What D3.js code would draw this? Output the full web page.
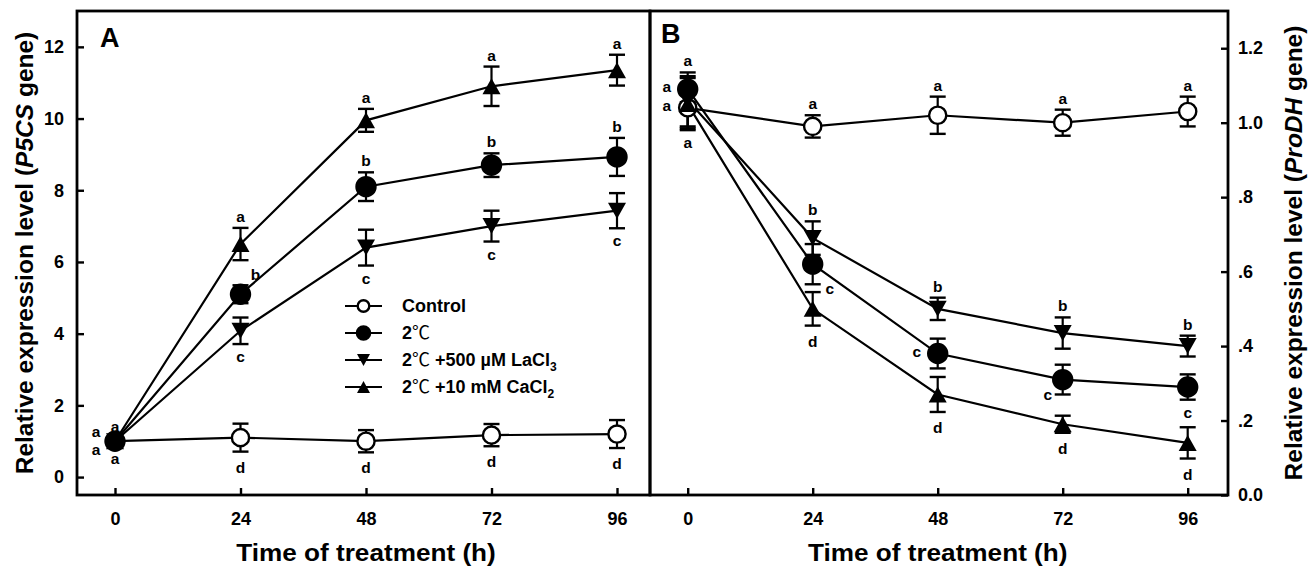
<!DOCTYPE html>
<html>
<head>
<meta charset="utf-8">
<script src="https://cdn.jsdelivr.net/npm/d3@7"></script>
<style>
body{margin:0;background:#fff;}
svg{display:block;font-family:'Liberation Sans',Arial,sans-serif;font-weight:bold;}
</style>
</head>
<body>
<div class="chart-container"></div>
<script>
//Data
const hours = [0, 24, 48, 72, 96];
const seriesNames = ['Control', '2℃', '2℃ +500 µM LaCl3', '2℃ +10 mM CaCl2'];
const markerTypes = ['openCircle', 'circle', 'triangleDown', 'triangleUp'];

// panel A - P5CS
const p5csControl = [1.0, 1.1, 1.0, 1.17, 1.2];
const p5csControlErr = [0.12, 0.39, 0.31, 0.31, 0.39];
const p5csCold = [1.0, 5.1, 8.1, 8.7, 8.93];
const p5csColdErr = [0.1, 0.25, 0.4, 0.33, 0.53];
const p5csLa = [1.0, 4.08, 6.4, 7.0, 7.43];
const p5csLaErr = [0.1, 0.37, 0.5, 0.43, 0.49];
const p5csCa = [1.0, 6.5, 9.95, 10.9, 11.35];
const p5csCaErr = [0.1, 0.45, 0.32, 0.55, 0.43];
const p5csLetters = [
    ['a', 'd', 'd', 'd', 'd'],
    ['a', 'b', 'b', 'b', 'b'],
    ['a', 'c', 'c', 'c', 'c'],
    ['a', 'a', 'a', 'a', 'a']
];
const p5csTicks = [0, 2, 4, 6, 8, 10, 12];

// panel B - ProDH
const prodhControl = [1.04, 0.99, 1.02, 1.0, 1.03];
const prodhControlErr = [0.05, 0.03, 0.05, 0.035, 0.04];
const prodhCold = [1.09, 0.62, 0.38, 0.31, 0.29];
const prodhColdErr = [0.035, 0.054, 0.04, 0.04, 0.034];
const prodhLa = [1.06, 0.69, 0.50, 0.435, 0.40];
const prodhLaErr = [0.075, 0.045, 0.03, 0.042, 0.028];
const prodhCa = [1.05, 0.50, 0.27, 0.19, 0.14];
const prodhCaErr = [0.07, 0.045, 0.047, 0.023, 0.042];
const prodhLetters = [
    ['a', 'a', 'a', 'a', 'a'],
    ['a', 'c', 'c', 'c', 'c'],
    ['a', 'b', 'b', 'b', 'b'],
    ['a', 'd', 'd', 'd', 'd']
];
const prodhTicks = [0, 0.2, 0.4, 0.6, 0.8, 1.0, 1.2];

//Layout (where each letter sits around its point)
const p5csPlace = [
    ['below', 'below', 'below', 'below', 'below'],
    ['LU', 'RU', 'above', 'above', 'above'],
    ['LD', 'below', 'below', 'below', 'below'],
    ['above', 'above', 'above', 'above', 'above']
];
const prodhPlace = [
    ['L', 'above', 'above', 'above', 'above'],
    ['L', 'RD', 'L', 'LD2', 'below'],
    ['above', 'above', 'above', 'above', 'above'],
    ['below', 'below', 'below', 'below', 'below']
];
const nudge = {L: [-21, -1], LU: [-19, -8], LD: [-19, 10], RU: [15, -20], RD: [17, 26], LD2: [-15, 16]};

const svg_width = 1309;
const svg_height = 568;
const plotTop = 11;
const plotBottom = 495;
const svg = d3.select('.chart-container').append('svg')
    .attr('width', svg_width).attr('height', svg_height);

function buildSeries(vals, errs, letters, place){
    return vals.map((v, i) => ({
        name: seriesNames[i],
        marker: markerTypes[i],
        points: hours.map((h, j) => ({h: h, v: v[j], e: errs[i][j], letter: letters[i][j], place: place[i][j]}))
    }));
}

const seriesA = buildSeries([p5csControl, p5csCold, p5csLa, p5csCa],
    [p5csControlErr, p5csColdErr, p5csLaErr, p5csCaErr], p5csLetters, p5csPlace);
const seriesB = buildSeries([prodhControl, prodhCold, prodhLa, prodhCa],
    [prodhControlErr, prodhColdErr, prodhLaErr, prodhCaErr], prodhLetters, prodhPlace);

function markerPath(type, big){
    const w = big ? 18 : 13, h = big ? 16 : 12;
    if(type == 'triangleUp') return `M0,${-h/2}L${w/2},${h/2}L${-w/2},${h/2}Z`;
    if(type == 'triangleDown') return `M0,${h/2}L${w/2},${-h/2}L${-w/2},${-h/2}Z`;
    return null;
}

function drawMarker(g, type, x, y, big){
    if(type == 'openCircle' || type == 'circle'){
        g.append('circle').attr('cx', x).attr('cy', y)
            .attr('r', big ? (type == 'circle' ? 9.5 : 8.6) : (type == 'circle' ? 6.6 : 5.8))
            .attr('fill', type == 'circle' ? '#000' : '#fff')
            .attr('stroke', '#000').attr('stroke-width', 2.4);
    } else {
        g.append('path').attr('d', markerPath(type, big))
            .attr('transform', `translate(${x},${y})`).attr('fill', '#000');
    }
}

function styleAxis(sel){
    sel.attr('font-size', null).attr('font-family', null);
    sel.select('.domain').remove();
    sel.selectAll('line').attr('stroke-width', 2.4);
    sel.selectAll('text').style('font-size', '18px');
}

function drawPanel(series, xScale, yScale, frame){
    const g = svg.append('g');
    const line = d3.line().x(d => xScale(d.h)).y(d => yScale(d.v));

    // lines
    g.selectAll('.line').data(series).enter().append('path')
        .attr('class', 'line').attr('d', d => line(d.points))
        .attr('fill', 'none').attr('stroke', '#000').attr('stroke-width', 2.2);

    // error bars
    series.forEach(s => {
        s.points.forEach(p => {
            const x = xScale(p.h), y1 = yScale(p.v + p.e), y2 = yScale(p.v - p.e);
            g.append('line').attr('x1', x).attr('x2', x).attr('y1', y1).attr('y2', y2)
                .attr('stroke', '#000').attr('stroke-width', 2.2);
            [y1, y2].forEach(yc => {
                g.append('line').attr('x1', x - 8).attr('x2', x + 8).attr('y1', yc).attr('y2', yc)
                    .attr('stroke', '#000').attr('stroke-width', 2.4);
            });
        });
    });

    // markers
    series.forEach(s => {
        s.points.forEach(p => drawMarker(g, s.marker, xScale(p.h), yScale(p.v), true));
    });

    // significance letters
    series.forEach(s => {
        s.points.forEach(p => {
            const asc = /[bd]/.test(p.letter);
            const x = xScale(p.h);
            let tx = x, ty;
            if(p.place == 'above'){
                ty = yScale(p.v + p.e) - 6;
            } else if(p.place == 'below'){
                ty = yScale(p.v - p.e) + 10 + (asc ? 11 : 8);
            } else {
                const n = nudge[p.place];
                tx = x + n[0];
                ty = yScale(p.v) + n[1] + (asc ? 5.5 : 4);
            }
            g.append('text').attr('x', tx).attr('y', ty).attr('text-anchor', 'middle')
                .style('font-size', '15.5px').text(p.letter);
        });
    });

    // x axis
    const xAxis = d3.axisBottom(xScale).tickValues(hours)
        .tickSizeInner(-7).tickSizeOuter(0).tickPadding(17);
    g.append('g').attr('class', 'x axis')
        .attr('transform', `translate(0,${plotBottom})`).call(xAxis).call(styleAxis);

    // frame
    g.append('rect').attr('x', frame[0]).attr('y', plotTop)
        .attr('width', frame[1] - frame[0]).attr('height', plotBottom - plotTop)
        .attr('fill', 'none').attr('stroke', '#000').attr('stroke-width', 2.8);

    // x title
    const cx = (xScale(0) + xScale(96)) / 2;
    g.append('text').attr('transform', `translate(${cx},561) scale(1.09,1)`)
        .attr('text-anchor', 'middle').style('font-size', '24px').text('Time of treatment (h)');
    return g;
}

// panel A
const xA = d3.scaleLinear().domain([0, 96]).range([115, 617]);
const yA = d3.scaleLinear().domain([-0.5, 13]).range([plotBottom, plotTop]);
const gA = drawPanel(seriesA, xA, yA, [77, 650]);
const yAxisA = d3.axisLeft(yA).tickValues(p5csTicks).tickSizeInner(-7).tickSizeOuter(0).tickPadding(13);
gA.append('g').attr('class', 'y axis').attr('transform', 'translate(77,0)').call(yAxisA).call(styleAxis);

const titleA = gA.append('text').attr('transform', 'translate(33,253) rotate(-90)')
    .attr('text-anchor', 'middle').style('font-size', '24.5px');
titleA.append('tspan').text('Relative expression level (');
titleA.append('tspan').style('font-style', 'italic').text('P5CS');
titleA.append('tspan').text(' gene)');
gA.append('text').attr('x', 100).attr('y', 47).style('font-size', '27px').text('A');

// panel B
const xB = d3.scaleLinear().domain([0, 96]).range([687.7, 1187.7]);
const yB = d3.scaleLinear().domain([0, 1.3]).range([plotBottom, plotTop]);
const gB = drawPanel(seriesB, xB, yB, [650, 1228]);
const yAxisB = d3.axisRight(yB).tickValues(prodhTicks).tickSizeInner(-7).tickSizeOuter(0).tickPadding(10)
    .tickFormat(d => d > 0 && d < 1 ? d3.format('.1f')(d).replace(/^0/, '') : d3.format('.1f')(d));
gB.append('g').attr('class', 'y axis').attr('transform', 'translate(1228,0)').call(yAxisB).call(styleAxis);

const titleB = gB.append('text').attr('transform', 'translate(1302,253) rotate(-90)')
    .attr('text-anchor', 'middle').style('font-size', '24.5px');
titleB.append('tspan').text('Relative expression level (');
titleB.append('tspan').style('font-style', 'italic').text('ProDH');
titleB.append('tspan').text(' gene)');
gB.append('text').attr('x', 661).attr('y', 43).style('font-size', '27px').text('B');

// legend
const legendRows = [306, 333, 360, 387];
const legend = svg.append('g').attr('class', 'legend');
seriesNames.forEach((name, i) => {
    const y = legendRows[i];
    legend.append('line').attr('x1', 345).attr('x2', 382).attr('y1', y).attr('y2', y)
        .attr('stroke', '#000').attr('stroke-width', 2.2);
    drawMarker(legend, markerTypes[i], 363.5, y, false);
    const t = legend.append('text').attr('x', 402).attr('y', y + 6).style('font-size', '18px');
    const parts = name.split('℃');
    if(parts.length == 1){
        t.text(name);
        return;
    }
    t.append('tspan').text(parts[0]);
    t.append('tspan').attr('font-family', "'Noto Sans CJK SC'").attr('font-weight', 400).text('℃');
    const m = parts[1].match(/^(.*Cl)(\d)$/);
    if(m){
        t.append('tspan').text(m[1]);
        t.append('tspan').style('font-size', '12px').attr('dy', 5).text(m[2]);
    } else if(parts[1]){
        t.append('tspan').text(parts[1]);
    }
});
</script>
</body>
</html>
